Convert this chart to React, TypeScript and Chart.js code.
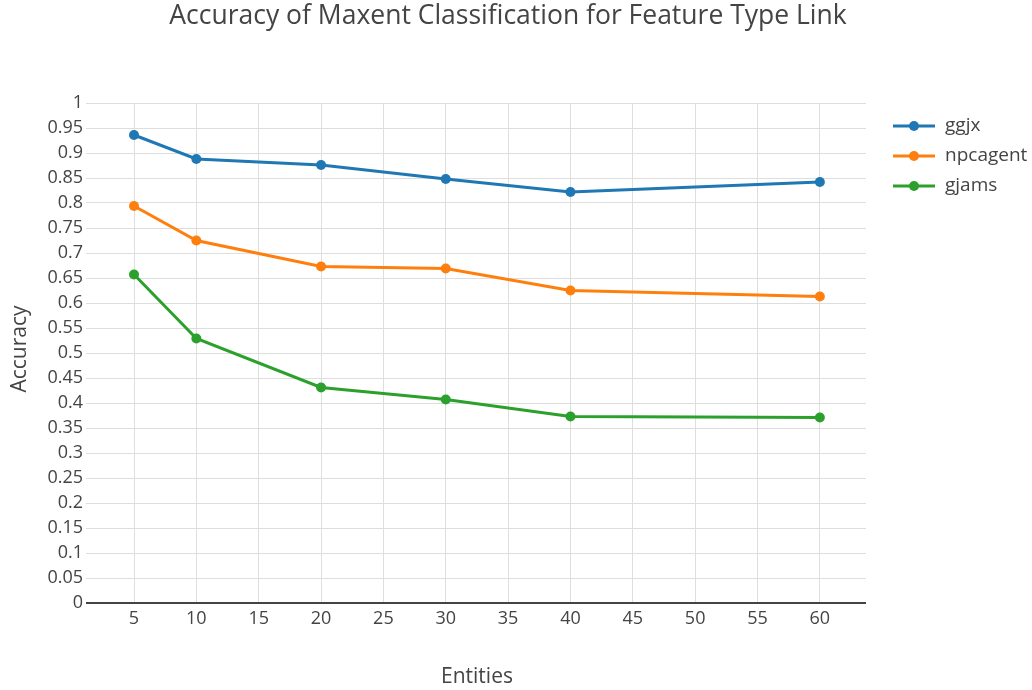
import React, { useEffect, useRef } from "react";
import { Chart, registerables } from "chart.js";

Chart.register(...registerables);

const entities = [5, 10, 20, 30, 40, 60];
const ggjx = [0.936, 0.888, 0.876, 0.848, 0.822, 0.842];
const npcagent = [0.794, 0.725, 0.673, 0.669, 0.625, 0.613];
const gjams = [0.657, 0.529, 0.431, 0.407, 0.373, 0.371];
const seriesNames = ["ggjx", "npcagent", "gjams"];
const seriesColors = ["#1f77b4", "#ff7f0e", "#2ca02c"];
const xTicks = [5, 10, 15, 20, 25, 30, 35, 40, 45, 50, 55, 60];
const yTicks = [0, 0.05, 0.1, 0.15, 0.2, 0.25, 0.3, 0.35, 0.4, 0.45, 0.5, 0.55, 0.6, 0.65, 0.7, 0.75, 0.8, 0.85, 0.9, 0.95, 1];
const titleText = "Accuracy of Maxent Classification for Feature Type Link";
const xTitle = "Entities";
const yTitle = "Accuracy";

const FONT = "'Open Sans', 'Noto Sans', sans-serif";

export default function App() {
  const ref = useRef<HTMLCanvasElement>(null);
  useEffect(() => {
    const canvas = ref.current!;
    const values = [ggjx, npcagent, gjams];
    const overlay = {
      id: "overlay",
      afterDraw(chart: any) {
        const ctx = chart.ctx;
        const area = chart.chartArea;
        ctx.save();
        ctx.fillStyle = "#444";
        ctx.textBaseline = "middle";
        ctx.textAlign = "center";
        ctx.font = `26.5px ${FONT}`;
        ctx.fillText(titleText, 508, 16);
        ctx.font = `21px ${FONT}`;
        ctx.fillText(xTitle, 477, 677);
        ctx.save();
        ctx.translate(20, 349);
        ctx.rotate(-Math.PI / 2);
        ctx.fillText(yTitle, 0, 0);
        ctx.restore();
        // legend
        ctx.textAlign = "left";
        ctx.font = `19px ${FONT}`;
        seriesNames.forEach((n, i) => {
          const y = 126 + i * 30;
          ctx.strokeStyle = seriesColors[i];
          ctx.lineWidth = 3;
          ctx.beginPath();
          ctx.moveTo(893, y);
          ctx.lineTo(935, y);
          ctx.stroke();
          ctx.fillStyle = seriesColors[i];
          ctx.beginPath();
          ctx.arc(914, y, 5, 0, Math.PI * 2);
          ctx.fill();
          ctx.fillStyle = "#444";
          ctx.fillText(n, 945, y);
        });
        ctx.restore();
      },
    };
    const chart = new Chart(canvas, {
      type: "line",
      data: {
        datasets: seriesNames.map((n, i) => ({
          label: n,
          data: entities.map((e, j) => ({ x: e, y: values[i][j] })),
          borderColor: seriesColors[i],
          backgroundColor: seriesColors[i],
          borderWidth: 3,
          pointRadius: 5,
          pointHoverRadius: 5,
          pointBorderWidth: 0,
          tension: 0,
          fill: false,
        })),
      },
      options: {
        animation: false,
        responsive: false,
        maintainAspectRatio: false,
        layout: { padding: { left: 0, top: 103, right: 166, bottom: 0 } },
        plugins: { legend: { display: false }, title: { display: false }, tooltip: { enabled: false } },
        scales: {
          x: {
            type: "linear",
            min: 1.15,
            max: 63.7,
            afterBuildTicks: (s: any) => {
              s.ticks = xTicks.map((v) => ({ value: v }));
            },
            afterFit: (s: any) => {
              s.height = 87;
            },
            border: { display: false },
            grid: { color: "#dedede", lineWidth: 1, drawTicks: false },
            ticks: {
              padding: 5,
              color: "#444",
              font: { family: FONT, size: 18 },
              maxRotation: 0,
              autoSkip: false,
              callback: (v: any) => String(v),
            },
          },
          y: {
            type: "linear",
            min: 0,
            max: 1,
            afterBuildTicks: (s: any) => {
              s.ticks = yTicks.map((v) => ({ value: v }));
            },
            afterFit: (s: any) => {
              s.width = 86;
            },
            border: { display: false },
            grid: {
              drawTicks: false,
              color: (c: any) => (c.tick && c.tick.value === 0 ? "#444" : "#dedede"),
              lineWidth: (c: any) => (c.tick && c.tick.value === 0 ? 2 : 1),
            },
            ticks: {
              padding: 3,
              color: "#444",
              font: { family: FONT, size: 18 },
              autoSkip: false,
              callback: (v: any) => String(Number(Number(v).toFixed(2))),
            },
          },
        },
      },
      plugins: [overlay],
    });
    return () => chart.destroy();
  }, []);
  return (
    <div style={{ position: "absolute", left: 0, top: 0, width: 1032, height: 690, background: "#fff" }}>
      <canvas ref={ref} width={1032} height={690} style={{ width: 1032, height: 690 }} />
    </div>
  );
}
